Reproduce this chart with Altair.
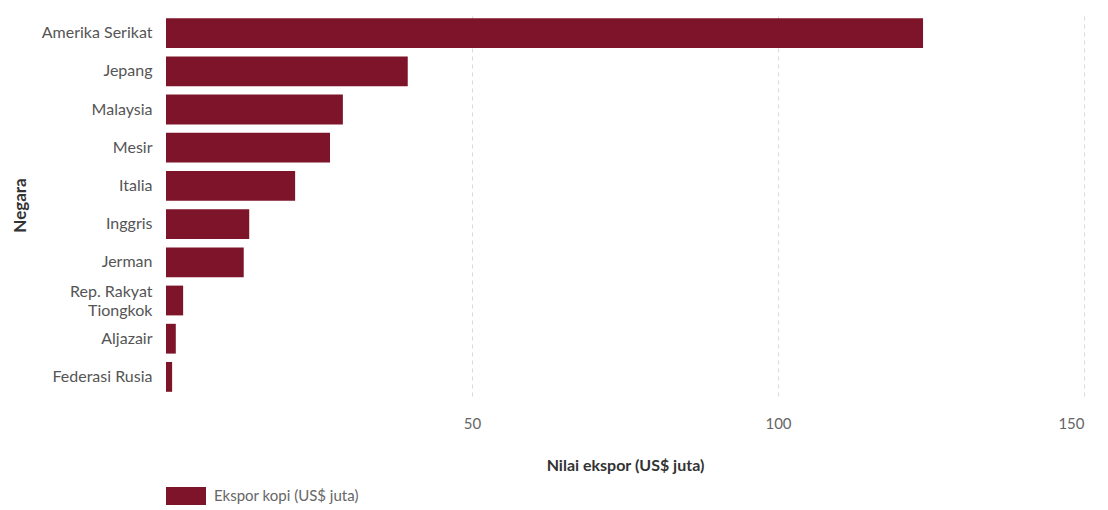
import altair as alt
import pandas as pd

countries = ["Amerika Serikat", "Jepang", "Malaysia", "Mesir", "Italia", "Inggris",
             "Jerman", "Rep. Rakyat Tiongkok", "Aljazair", "Federasi Rusia"]
values = [123.7, 39.5, 28.9, 26.8, 21.1, 13.6, 12.7, 2.8, 1.6, 1.0]
series_name = "Ekspor kopi (US$ juta)"
x_ticks = [50, 100, 150]

df = pd.DataFrame({"Negara": countries, "Nilai": values, "Seri": [series_name] * len(countries)})

FONT = "Lato"

chart = alt.Chart(df).mark_bar(color="#7d1429").encode(
    y=alt.Y("Negara:N", sort=countries,
            scale=alt.Scale(paddingInner=0.22, paddingOuter=0.11),
            axis=alt.Axis(title="Negara", ticks=False, domain=False, labelPadding=14,
                          labelFont=FONT, labelFontSize=16, labelColor="#555555",
                          labelExpr="datum.label == 'Rep. Rakyat Tiongkok' ? ['Rep. Rakyat', 'Tiongkok'] : datum.label",
                          labelLineHeight=19,
                          labelOffset={"condition": {"test": "datum.label == 'Rep. Rakyat Tiongkok'", "value": -9},
                                       "value": 0},
                          titleFont=FONT, titleFontSize=17, titleFontWeight="bold", titleColor="#333333",
                          titleX=-146, titleY=191, titleBaseline="middle", titleAngle=270)),
    x=alt.X("Nilai:Q", scale=alt.Scale(domain=[0, 150], nice=False),
            axis=alt.Axis(title="Nilai ekspor (US$ juta)", values=x_ticks, ticks=False, domain=False,
                          grid=True, gridDash=[4, 4], gridColor="#d9d9d9",
                          labelFont=FONT, labelFontSize=15, labelColor="#666666", labelPadding=20,
                          titleFont=FONT, titleFontSize=16, titleFontWeight="bold", titleColor="#333333",
                          titleX=459, titleY=69, titleBaseline="middle", titleAnchor="middle")),
    color=alt.Color("Seri:N", scale=alt.Scale(range=["#7d1429"]),
                    legend=alt.Legend(title=None, orient="none", legendX=0, legendY=462,
                                      symbolType="M-1,-0.45H1V0.45H-1Z", symbolSize=1600,
                                      symbolOpacity=1, symbolStrokeWidth=0,
                                      labelFont=FONT, labelFontSize=15, labelColor="#666666",
                                      labelOffset=8)),
).properties(
    width=918, height=382,
    background="white",
    autosize=alt.AutoSizeParams(type="none"),
    padding={"left": 166, "top": 14, "right": 24, "bottom": 114},
).configure_view(stroke=None, strokeWidth=0)

chart.save("out.html", embed_options={"renderer": "svg", "actions": False})
